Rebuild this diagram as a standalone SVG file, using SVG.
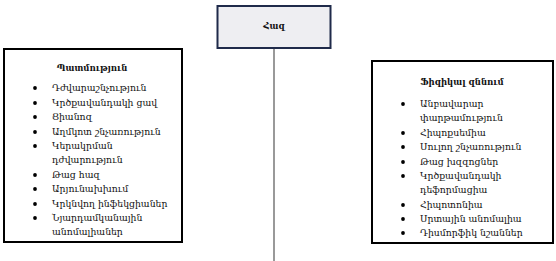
<svg xmlns="http://www.w3.org/2000/svg" width="556" height="261" viewBox="0 0 556 261">
<style>
text{font-family:"DejaVu Serif","Noto Sans",serif;font-size:9.3px;fill:#111}
.t{font-weight:bold;text-anchor:middle;font-size:8.5px}
.box{fill:#fff;stroke:#000;stroke-width:2}
.bul{fill:#000}
</style>
<defs><circle id="b" r="1.9" class="bul"/></defs>
<g id="connectors"><line x1="274" y1="48" x2="274" y2="261" stroke="#555" stroke-width="1.2"/></g>
<g id="root">
<rect x="217.5" y="6" width="113" height="42" fill="#eeeef2" stroke="#1f2a4a" stroke-width="2"/>
<text class="t" x="274" y="29">Հազ</text>
</g>
<g id="history">
<rect class="box" x="4" y="49" width="178" height="193"/>
<text class="t" x="92" y="71">Պատմություն</text>
<use href="#b" x="35" y="88"/><text x="52" y="91">Դժվարաշնչություն</text>
<use href="#b" x="35" y="103"/><text x="52" y="106">Կրծքավանդակի ցավ</text>
<use href="#b" x="35" y="117"/><text x="52" y="120">Ցիանոզ</text>
<use href="#b" x="35" y="132"/><text x="52" y="135">Աղմկոտ շնչառություն</text>
<use href="#b" x="35" y="146"/><text x="52" y="149">Կերակրման</text>
<text x="52" y="163">դժվարություն</text>
<use href="#b" x="35" y="175"/><text x="52" y="178">Թաց հազ</text>
<use href="#b" x="35" y="189"/><text x="52" y="192">Արյունախխում</text>
<use href="#b" x="35" y="204"/><text x="52" y="207">Կրկնվող ինֆեկցիաներ</text>
<use href="#b" x="35" y="218"/><text x="52" y="221">Նյարդամկանային</text>
<text x="52" y="235">անոմալիաներ</text>
</g>
<g id="exam">
<rect class="box" x="372" y="61" width="181" height="182"/>
<text class="t" x="462" y="85">Ֆիզիկալ զննում</text>
<use href="#b" x="403" y="104"/><text x="420" y="107">Անբավարար</text>
<text x="420" y="121">փարթամություն</text>
<use href="#b" x="403" y="133"/><text x="420" y="136">Հիպոքսեմիա</text>
<use href="#b" x="403" y="147"/><text x="420" y="150">Սուլող շնչառություն</text>
<use href="#b" x="403" y="162"/><text x="420" y="165">Թաց խզզոցներ</text>
<use href="#b" x="403" y="176"/><text x="420" y="179">Կրծքավանդակի</text>
<text x="420" y="193">դեֆորմացիա</text>
<use href="#b" x="403" y="205"/><text x="420" y="208">Հիպոտոնիա</text>
<use href="#b" x="403" y="219"/><text x="420" y="222">Սրտային անոմալիա</text>
<use href="#b" x="403" y="233"/><text x="420" y="236">Դիսմորֆիկ նշաններ</text>
</g>
</svg>
